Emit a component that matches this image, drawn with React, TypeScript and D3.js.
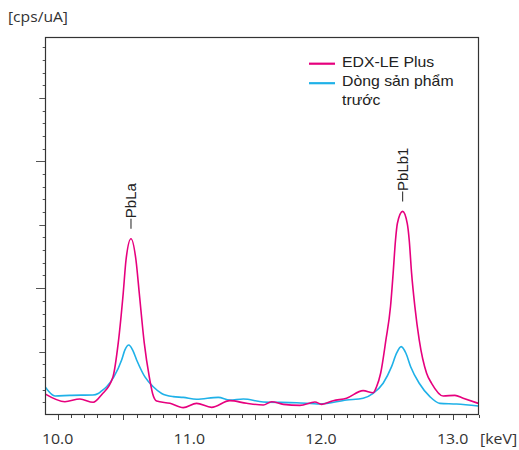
import React from 'react';
import * as d3 from 'd3';

// EDX-LE Plus spectrum (pink)
const plusKeV = [9.904, 10.055, 10.169, 10.27, 10.334, 10.42, 10.46, 10.498, 10.519, 10.557, 10.595, 10.62, 10.658, 10.696, 10.721, 10.752,
  10.853, 10.954, 11.055, 11.169, 11.308, 11.435, 11.562, 11.625, 11.714, 11.84, 11.954, 12.005, 12.093, 12.194, 12.32, 12.396,
  12.422, 12.453, 12.493, 12.528, 12.548, 12.566, 12.58, 12.62, 12.655, 12.67, 12.688, 12.713, 12.746, 12.802, 12.84, 12.928,
  13.017, 13.08, 13.194];
const plusCps = [1.66, 1.05, 1.26, 1.0, 1.6, 3.0, 5.66, 9.6, 12.2, 13.9, 12.2, 9.6, 5.66, 3.0, 1.7, 1.1,
  0.92, 0.58, 0.92, 0.6, 1.13, 0.92, 0.79, 1.05, 0.84, 0.76, 1.03, 0.84, 1.13, 1.32, 1.92, 1.76,
  2.23, 3.29, 5.92, 8.55, 11.18, 13.8, 15.1, 16.05, 15.1, 13.8, 11.18, 8.55, 5.92, 3.29, 2.5, 1.5,
  1.55, 1.32, 0.92];

// previous model (blue)
const prevKeV = [9.904, 9.98, 10.093, 10.268, 10.308, 10.334, 10.372, 10.427, 10.486, 10.511, 10.541, 10.569, 10.6, 10.663, 10.726, 10.79,
  10.878, 10.954, 11.055, 11.22, 11.308, 11.41, 11.562, 11.815, 11.992, 12.194, 12.32, 12.396, 12.472, 12.536, 12.574, 12.609,
  12.645, 12.681, 12.746, 12.827, 12.903, 13.03, 13.194];
const prevCps = [2.23, 1.5, 1.55, 1.58, 1.7, 1.9, 2.23, 3.0, 4.34, 5.13, 5.52, 5.13, 4.34, 3.0, 2.23, 1.7,
  1.45, 1.39, 1.24, 1.39, 1.18, 1.26, 1.03, 0.97, 0.87, 1.18, 1.32, 1.71, 2.5, 3.81, 4.87, 5.39,
  4.87, 3.81, 2.5, 1.45, 0.92, 0.87, 0.71];

const xTickLabels = ['10.0', '11.0', '12.0', '13.0'];
const peakNames = ['PbLa', 'PbLb1'];
const peakKeV = [10.557, 12.62];
const peakTop = [13.9, 16.05];
const legendNames = [['EDX-LE Plus'], ['Dòng sản phẩm', 'trước']];

const PINK = '#e6007e';
const BLUE = '#1fb1e8';

const App = () => {
  const margin = { top: 37, right: 40, bottom: 35, left: 45 };
  const width = 519;
  const height = 450;

  const x = d3.scaleLinear().domain([9.904, 13.2]).range([margin.left, width - margin.right]);
  const y = d3.scaleLinear().domain([0, 29.8]).range([415, margin.top]);

  const line = d3.line<[number, number]>()
    .x(d => x(d[0]))
    .y(d => y(d[1]))
    .curve(d3.curveMonotoneX);

  const plusPath = line(plusKeV.map((k, i) => [k, plusCps[i]]) as [number, number][]);
  const prevPath = line(prevKeV.map((k, i) => [k, prevCps[i]]) as [number, number][]);

  const xTicks = d3.range(0, 33).map(i => 10 + i * 0.1);
  const yTicks = d3.range(1, 30);

  const x0 = x.range()[0], x1 = x.range()[1];
  const y0 = y.range()[0], y1 = y.range()[1];

  return (
    <svg width={width} height={height} style={{ position: 'absolute', left: 0, top: 0 }}>
      <defs>
        <clipPath id="plot">
          <rect x={x0} y={y1} width={x1 - x0} height={y0 - y1} />
        </clipPath>
      </defs>

      <text transform="translate(8,22) scale(1.08,1)" fontFamily="Open Sans" fontSize={14.5} fill="#333">[cps/uA]</text>

      {/* y ticks */}
      <g stroke="#555" strokeWidth={1}>
        {yTicks.map(t => {
          const len = t % 10 === 0 ? 9 : t % 5 === 0 ? 5.7 : 2.3;
          return <line key={t} x1={x0 - len} x2={x0} y1={Math.round(y(t)) + 0.5} y2={Math.round(y(t)) + 0.5} />;
        })}
      </g>

      {/* x ticks */}
      <g stroke="#444" strokeWidth={1}>
        {xTicks.map((t, i) => {
          const len = i % 5 === 0 ? 5 : 3;
          return <line key={i} x1={Math.round(x(t)) + 0.5} x2={Math.round(x(t)) + 0.5} y1={y0} y2={y0 + len} />;
        })}
      </g>

      <g fontFamily="Open Sans" fontSize={15} fill="#333">
        {xTickLabels.map(l => (
          <text key={l} transform={`translate(${x(+l)},444) scale(1.06,1)`} textAnchor="middle">{l}</text>
        ))}
        <text transform="translate(480,444) scale(1.06,1)">[keV]</text>
      </g>

      <g clipPath="url(#plot)" fill="none" strokeWidth={1.6} strokeLinejoin="round">
        <path d={prevPath ?? ''} stroke={BLUE} />
        <path d={plusPath ?? ''} stroke={PINK} />
      </g>

      <rect x={x0 + 0.5} y={y1 + 0.5} width={x1 - x0 - 1} height={y0 - y1 - 1} fill="none" stroke="#333" strokeWidth={1.2} />

      {/* peak labels */}
      {peakNames.map((n, i) => {
        const px = x(peakKeV[i]);
        const py = y(peakTop[i]) - 10;
        return (
          <g key={n}>
            <line x1={px} x2={px} y1={py} y2={py - 10} stroke="#333" strokeWidth={1.1} />
            <text transform={`translate(${px},${py - 10.5}) rotate(-90)`} dy="0.36em"
              fontFamily="Liberation Sans, Arial" fontSize={15} fill="#222">{n}</text>
          </g>
        );
      })}

      {/* legend */}
      <g transform="translate(309,0)">
        {legendNames.map((lines, i) => {
          const base = 66.7 + i * 19.5;
          return (
            <g key={i}>
              <line x1={0} x2={26} y1={base - 3} y2={base - 3} stroke={i === 0 ? PINK : BLUE} strokeWidth={2.2} />
              {lines.map((t, j) => (
                <text key={j} transform={`translate(33,${base + j * 19}) scale(1.13,1)`}
                  fontFamily="Liberation Sans, Arial" fontSize={14} fill="#222">{t}</text>
              ))}
            </g>
          );
        })}
      </g>
    </svg>
  );
};

export default App;
